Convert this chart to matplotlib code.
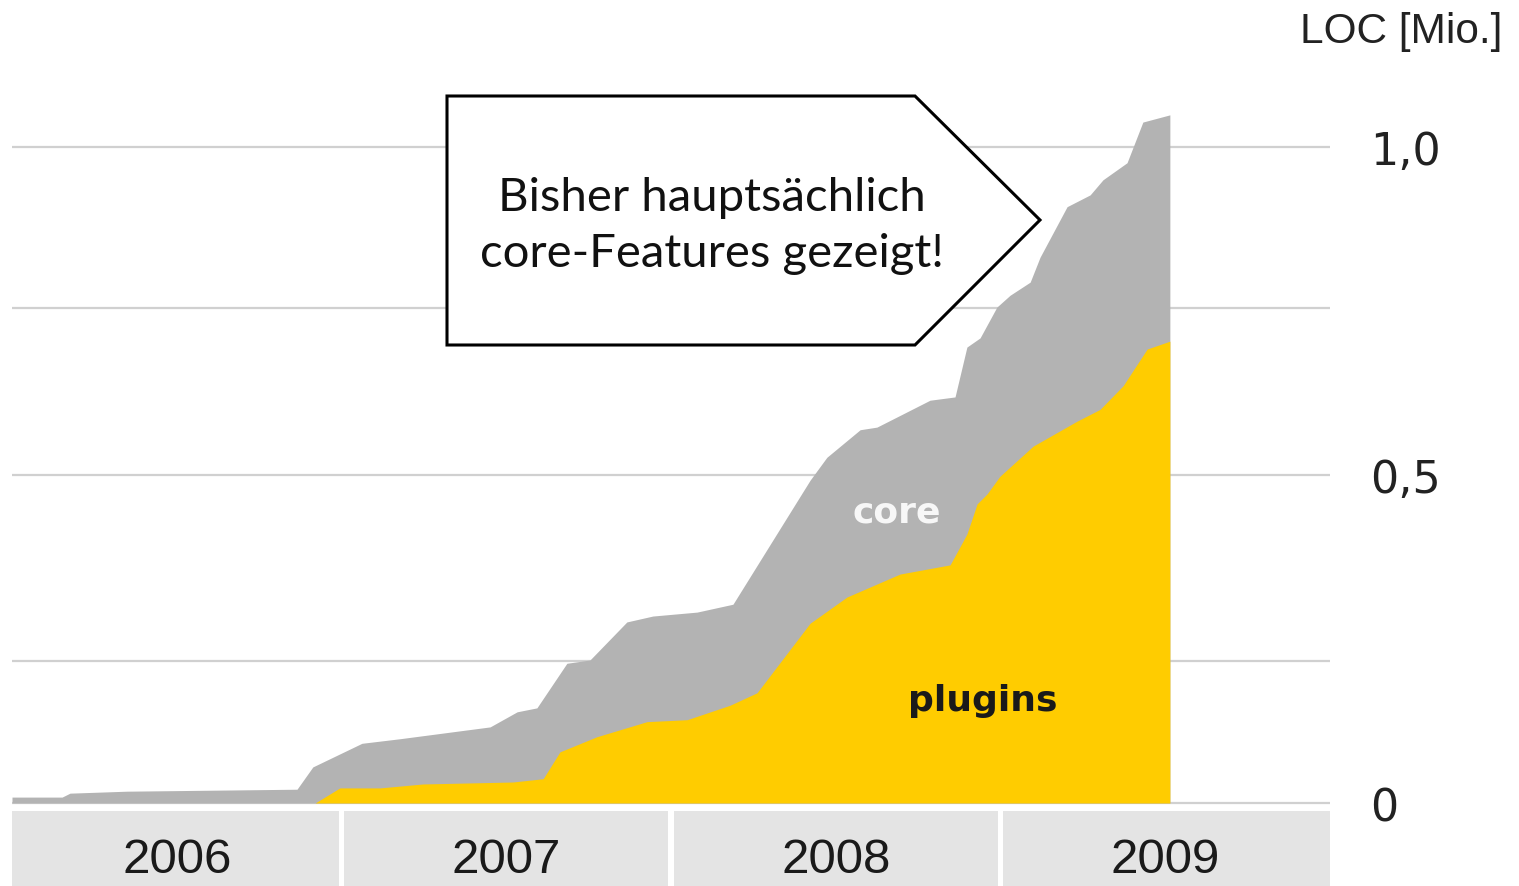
import matplotlib.pyplot as plt
from matplotlib.patches import Polygon, Rectangle
from matplotlib.transforms import offset_copy

# Gesamt-LOC (core + plugins), in Mio. Zeilen
total_t = [2006.000, 2006.152, 2006.176, 2006.349, 2006.865, 2006.913, 2007.062,
           2007.178, 2007.451, 2007.533, 2007.593, 2007.684, 2007.754, 2007.866,
           2007.945, 2008.079, 2008.188, 2008.422, 2008.473, 2008.574, 2008.625,
           2008.786, 2008.862, 2008.898, 2008.938, 2008.989, 2009.029, 2009.090,
           2009.120, 2009.202, 2009.272, 2009.311, 2009.384, 2009.432, 2009.514]
total_loc = [0.009, 0.009, 0.015, 0.018, 0.021, 0.055, 0.091,
             0.098, 0.116, 0.139, 0.145, 0.213, 0.218, 0.276,
             0.285, 0.291, 0.303, 0.492, 0.527, 0.569, 0.573,
             0.614, 0.619, 0.695, 0.709, 0.756, 0.774, 0.794,
             0.832, 0.909, 0.927, 0.950, 0.976, 1.038, 1.049]

# nur plugins
plugins_t = [2006.920, 2006.995, 2007.117, 2007.247, 2007.520, 2007.612, 2007.663,
             2007.775, 2007.927, 2008.049, 2008.179, 2008.261, 2008.422, 2008.534,
             2008.695, 2008.847, 2008.898, 2008.929, 2008.959, 2008.998, 2009.099,
             2009.232, 2009.302, 2009.372, 2009.445, 2009.514]
plugins_loc = [0.000, 0.023, 0.023, 0.029, 0.032, 0.037, 0.078,
               0.101, 0.124, 0.127, 0.149, 0.168, 0.274, 0.314,
               0.349, 0.363, 0.410, 0.456, 0.471, 0.498, 0.544,
               0.582, 0.600, 0.636, 0.692, 0.704]

years = [2006, 2007, 2008, 2009]
grid_levels = [0, 0.216, 0.5, 0.755, 1.0]
tick_values = [0, 0.5, 1.0]
tick_labels = ["0", "0,5", "1,0"]

W, H = 1519, 886
fig = plt.figure(figsize=(W / 100, H / 100), dpi=100)
ax = fig.add_axes([12 / W, 0, 1318 / W, 1])
ax.set_xlim(2006, 2010)
ax.set_ylim(-83 / 656, 803 / 656)

for g in grid_levels:
    ax.axhline(g, color="#d0d0d0", lw=1.6, zorder=1)

ax.fill_between(total_t, 0, total_loc, color="#b3b3b3", lw=0, zorder=2)
ax.fill_between(plugins_t, 0, plugins_loc, color="#ffcc00", lw=0, zorder=3)

ax.text(2008.686, 0.428, "core", color="#f7f7f7", fontsize=26,
        fontweight="bold", ha="center", va="baseline", zorder=4)
ax.text(2008.947, 0.140, "plugins", color="#1a1a1a", fontsize=26,
        fontweight="bold", ha="center", va="baseline", zorder=4)

# Jahresleiste unten
for y in years:
    x0 = y + (0.009 if y > years[0] else 0)
    x1 = y + 1 - (0.009 if y < years[-1] else 0)
    ax.add_patch(Rectangle((x0, -0.1265), x1 - x0, 0.1143,
                           color="#e4e4e4", lw=0, zorder=2))
    ax.text(y + 0.5, -0.087, str(y), fontsize=35.5, family="Liberation Sans",
            color="#1a1a1a", ha="center", va="center", zorder=3)

# Achsenbeschriftung rechts, etwas unter den Gitterlinien
lbl_tr = offset_copy(ax.get_yaxis_transform(), fig=fig, x=40, y=-6, units="dots")
for v, s in zip(tick_values, tick_labels):
    ax.text(1.0, v, s, transform=lbl_tr, fontsize=32, color="#222222",
            ha="left", va="center", clip_on=False)
ax.set_xticks([])
ax.set_yticks([])
for s in ax.spines.values():
    s.set_visible(False)

fig.text(1502 / W, 1 - 32 / H, "LOC [Mio.]", fontsize=30.5, family="Liberation Sans",
         color="#222222", ha="right", va="center")

# Sprechblase
pts = [(447, 96), (915, 96), (1040, 220), (915, 345), (447, 345)]
box = Polygon([(px / W, 1 - py / H) for px, py in pts], closed=True,
              transform=fig.transFigure, facecolor="white", edgecolor="black",
              lw=2.2, zorder=5, clip_on=False)
ax.add_patch(box)
ax.text(712 / W, 1 - 226 / H, "Bisher hauptsächlich\ncore-Features gezeigt!",
        transform=fig.transFigure, fontsize=34, family="Lato", color="#111111",
        ha="center", va="center", linespacing=1.42, zorder=6)

fig.savefig("out.png", dpi=100)
